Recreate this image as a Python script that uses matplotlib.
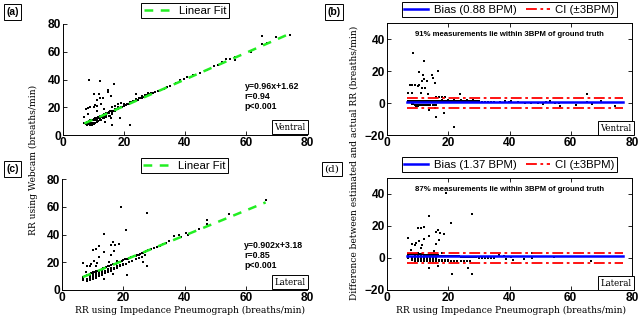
import numpy as np
import matplotlib
matplotlib.use("Agg")
import matplotlib.pyplot as plt

plt.rcParams['font.family'] = ['Liberation Sans', 'DejaVu Sans']

# ---- data ----
# ventral: impedance RR (x) vs webcam RR (y)
ventral_x = [7, 7.5, 7.5, 8, 8, 8.5, 8.5, 9, 9, 9.5, 9.5, 10, 10, 10.5, 10.5, 11, 11, 11.5, 11.5, 12,
             12, 12.5, 12.5, 13, 13, 13.5, 13.5, 14, 14, 14.5, 14.5, 15, 15, 15.5, 16, 16, 16.5, 17, 17, 17.5,
             18, 18, 18.5, 19, 19.5, 20, 20, 20.5, 21, 21.5, 22, 22, 22.5, 23, 23.5, 24, 24, 24.5, 25, 25.5,
             26, 26, 26.5, 27, 27.5, 28, 28, 28.5, 29, 29.5, 30, 31, 32, 33,
             8, 8.5, 9, 9, 9.5, 9.5, 10, 10, 10.5, 11, 11, 11.5, 12, 12.5, 13, 13.5, 14, 15, 15.5, 16,
             8.6, 12.2, 16.6, 14.6, 14.9, 10.3, 11.9, 11.3, 10.6, 11.3, 7.6, 12, 23.9, 18.1, 22, 16, 18.7,
             13.8, 15.6, 9, 8.3, 8.3, 7, 13, 15.7, 16, 17, 19, 10, 12.5, 13.5, 11,
             34, 35, 36.9, 38.4, 39.7, 40.5, 42.7, 44.9, 47.1, 49.4, 50.9, 52, 53.3, 54.8, 56.3, 56.4,
             61.6, 65.3, 65.3, 67, 69.8, 74.5]
ventral_y = [8.5, 9, 8, 9.5, 8.5, 10, 9, 10.5, 9.5, 10.5, 11, 11.5, 10.5, 12, 11, 12.5, 11.5, 12.5, 13, 13.5,
             12.5, 14, 13, 14.5, 13.5, 15, 14, 15.5, 14.5, 15.5, 16, 16.5, 15.5, 17, 17.5, 16.5, 17.5, 18.5, 17.5, 18.5,
             19, 20, 19.5, 20.5, 20.5, 21, 22, 21.5, 22.5, 22.5, 23, 24, 23.5, 24.5, 24.5, 25, 26, 25.5, 26.5, 26.5,
             27, 28, 27.5, 28.5, 28.5, 29, 30, 29.5, 30, 30.5, 31, 31.5, 32.5, 33.5,
             7.5, 8, 8, 7.5, 8.5, 7.5, 9, 8, 9, 9.5, 10, 10, 11, 11, 12, 12.5, 13, 13.5, 14, 15,
             39.8, 38.7, 36.8, 32.2, 30.8, 29.5, 29.5, 25.2, 21.6, 20.9, 18.7, 27, 29.4, 22.1, 6.9, 7.5, 12.4,
             9.2, 12.6, 20, 19.3, 14.8, 13, 26.9, 28.1, 20, 21, 23, 20.5, 22, 19, 17,
             34.5, 35.5, 37.5, 39.6, 40.5, 42, 43.2, 44.9, 46.8, 49.4, 50.5, 52.8, 54.6, 54.5, 56.3, 54.3,
             60.1, 71.2, 65.9, 66.1, 70.9, 72.4]

# lateral: impedance RR (x) vs webcam RR (y)
lateral_x = [7, 7.5, 8, 8.5, 9, 9.5, 10, 10.5, 11, 11.5, 12, 12.5, 13, 13.5, 14, 14.5, 15, 15.5, 16, 16.5,
             17, 17.5, 18, 18.5, 19, 19.5, 20, 20.5, 21, 21.5, 22, 22.5, 23, 23.5, 24, 24.5, 25, 25.5, 26, 26.5,
             27, 27.5, 28, 28.5, 29, 30, 31, 32, 33, 34,
             7, 7, 8, 8, 8, 9, 9, 9, 9, 10, 10, 10, 10, 11, 11, 11, 11, 12, 12, 12, 12, 13, 13, 13, 13,
             14, 14, 14, 15, 15, 15, 16, 16, 16, 17, 17, 18, 18, 19, 19, 20, 20, 21, 22, 23, 24, 25, 26, 27,
             6.8, 7.7, 13.8, 10.2, 11.1, 12.2, 13.8, 15.9, 16.8, 17.3, 18.7, 19.2, 20.9, 27.9, 21.1, 27.9,
             26.4, 13.8, 16.6, 9, 9.5, 10.5, 11, 11.5, 12, 16, 15.5, 17, 18, 10, 8,
             35, 36.7, 38.3, 39, 40.4, 41, 44.8, 47.4, 47.4, 54.5, 66.5]
lateral_y = [9.5, 10, 10.5, 11, 11.5, 12, 12.5, 13, 13.5, 14, 14, 14.5, 15, 15.5, 16, 16.5, 17, 17.5, 18, 18.5,
             18.5, 19, 19.5, 20, 20.5, 21, 21.5, 22, 22, 22.5, 23, 23.5, 24, 24.5, 24.5, 25, 25.5, 26, 26.5, 27,
             27.5, 28, 28.5, 29, 29.5, 30, 31, 32, 33, 34,
             7, 8, 6.5, 7, 8, 7, 8, 9, 10, 8, 9, 10, 11, 9, 10, 11, 12, 10, 11, 12, 13, 11, 12, 13, 14,
             12, 13, 14, 13, 14, 15, 14, 15, 16, 15, 16, 16, 17, 17, 18, 18, 19, 19, 20, 21, 22, 23, 24, 25,
             19.4, 13, 40.3, 29.1, 29.6, 31.8, 27.7, 32.3, 34.3, 32.7, 33.5, 59.8, 42.9, 55.3, 10.8, 17.6,
             20.4, 7.8, 11.6, 17, 19, 21, 17, 19.5, 24, 25, 20, 28, 21, 13, 17,
             35, 38.7, 39.6, 38.5, 40.8, 39.5, 44, 50.4, 47.7, 55, 64.8]

fits = [(0.96, 1.62, 0.94), (0.902, 3.18, 0.85)]
bias = [0.88, 1.37]
within = [91, 87]
positions = ['Ventral', 'Lateral']
ci = 3
ba_xrange = [6.5, 77]

# ---- figure ----
fig = plt.figure(figsize=(6.4, 3.16), dpi=100)
W, H = 640, 316


def box(l, r, t, b):
    return [l / W, 1 - b / H, (r - l) / W, (b - t) / H]


ax_a = fig.add_axes(box(63, 307, 24, 135))
ax_b = fig.add_axes(box(387, 632, 23, 135))
ax_c = fig.add_axes(box(62, 307, 179, 290))
ax_d = fig.add_axes(box(387, 632, 178, 290))

serif = ['DejaVu Serif']
TICK = 8.6
LEG = 8.2


def style_ticks(ax):
    for lab in ax.get_xticklabels() + ax.get_yticklabels():
        lab.set_fontsize(TICK)
        lab.set_fontweight('bold')
    for s in ax.spines.values():
        s.set_linewidth(0.7)


def top_legend(ax, ncol, hl):
    leg = ax.legend(loc='lower center', bbox_to_anchor=(0.5, 1.055), ncol=ncol, fontsize=LEG,
                    frameon=True, fancybox=False, edgecolor='black', handlelength=hl,
                    handletextpad=0.5, borderpad=0.2, borderaxespad=0, columnspacing=0.8,
                    framealpha=1)
    leg.get_frame().set_linewidth(0.7)


for ax, xs, ys, (m, c, r), pos in [(ax_a, ventral_x, ventral_y, fits[0], positions[0]),
                                   (ax_c, lateral_x, lateral_y, fits[1], positions[1])]:
    xs = np.array(xs)
    ax.scatter(xs, ys, s=3, c='black', marker='s', linewidths=0, zorder=2)
    fx = np.array([xs.min(), xs.max()])
    ax.plot(fx, m * fx + c, color='#22ee22', ls='--', lw=1.8, dashes=(3.5, 3),
            label='Linear Fit', zorder=3)
    ax.set_xlim(0, 80)
    ax.set_ylim(0, 80)
    ax.set_xticks([0, 20, 40, 60, 80])
    ax.set_yticks([0, 20, 40, 60, 80])
    ax.spines['top'].set_visible(False)
    ax.spines['right'].set_visible(False)
    ax.tick_params(direction='in', length=3, width=0.6, pad=1.5)
    style_ticks(ax)
    ax.text(59.5, 38.5 if ax is ax_a else 35.5,
            'y=%gx+%g\nr=%g\np<0.001' % (m, c, r),
            fontsize=6.3, fontweight='bold', va='top', ha='left', linespacing=1.15)
    ax.text(0.995, 0.03, pos, transform=ax.transAxes, ha='right', va='bottom',
            family=serif, fontsize=6.2,
            bbox=dict(boxstyle='square,pad=0.3', fc='white', ec='black', lw=0.7))
    top_legend(ax, 1, 2.6)

for ax, xs, ys, b, w, pos in [(ax_b, ventral_x, ventral_y, bias[0], within[0], positions[0]),
                              (ax_d, lateral_x, lateral_y, bias[1], within[1], positions[1])]:
    xs = np.array(xs)
    diff = np.array(ys) - xs
    ax.scatter(xs, diff, s=3, c='black', marker='s', linewidths=0, zorder=2)
    ax.plot(ba_xrange, [b, b], color='#0000ff', lw=1.8, label='Bias (%.2f BPM)' % b, zorder=3)
    ax.plot(ba_xrange, [ci, ci], color='#ff0000', lw=1.3, ls='-.', dashes=(6, 2, 1.5, 2),
            label='CI (\u00b1%dBPM)' % ci, zorder=3)
    ax.plot(ba_xrange, [-ci, -ci], color='#ff0000', lw=1.3, ls='-.', dashes=(6, 2, 1.5, 2), zorder=3)
    ax.set_xlim(0, 80)
    ax.set_ylim(-20, 50)
    ax.set_xticks([0, 20, 40, 60, 80])
    ax.set_yticks([-20, 0, 20, 40])
    ax.set_yticklabels(['\u221220', '0', '20', '40'])
    ax.tick_params(direction='in', length=3, width=0.6, pad=1.5, top=True, right=True)
    style_ticks(ax)
    ax.text(0.5, 0.93, '%d%% measurements lie within 3BPM of ground truth' % w,
            transform=ax.transAxes, ha='center', va='top', fontsize=5.6, fontweight='bold')
    ax.text(0.998, 0.02, pos, transform=ax.transAxes, ha='right', va='bottom',
            family=serif, fontsize=6.2,
            bbox=dict(boxstyle='square,pad=0.3', fc='white', ec='black', lw=0.7))
    top_legend(ax, 2, 2.1)

# panel tags
for lab, px, py, fam, wt in [('(a)', 12.5, 12, 'Liberation Sans', 'bold'),
                             ('(b)', 334, 12, 'Liberation Sans', 'bold'),
                             ('(c)', 12.5, 169, 'Liberation Sans', 'bold'),
                             ('(d)', 332, 169, 'DejaVu Serif', 'normal')]:
    fig.text(px / W, 1 - py / H, lab, ha='center', va='center', fontsize=7.5,
             family=fam, fontweight=wt,
             bbox=dict(boxstyle='square,pad=0.25', fc='white', ec='black', lw=0.7))

# axis labels
fig.text(33 / W, 1 - 160 / H, 'RR using Webcam (breaths/min)', rotation=90,
         ha='center', va='center', family=serif, fontsize=6.6)
fig.text(354 / W, 1 - 163 / H, 'Difference between estimated and actual RR (breaths/min)',
         rotation=90, ha='center', va='center', family=serif, fontsize=6.6)
fig.text(190 / W, 1 - 310 / H, 'RR using Impedance Pneumograph (breaths/min)',
         ha='center', va='center', family=serif, fontsize=6.6)
fig.text(511 / W, 1 - 310 / H, 'RR using Impedance Pneumograph (breaths/min)',
         ha='center', va='center', family=serif, fontsize=6.6)

fig.savefig('out.png', dpi=100)
